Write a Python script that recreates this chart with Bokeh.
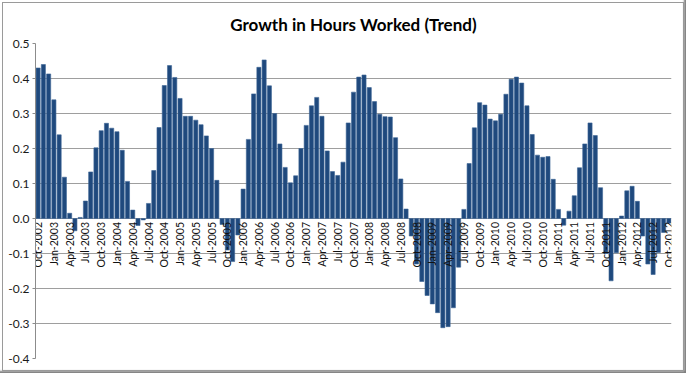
import math
from bokeh.plotting import figure
from bokeh.models import Range1d, FixedTicker, NumeralTickFormatter, ColumnDataSource
from bokeh.core.properties import value
from bokeh.embed import file_html
from bokeh.resources import INLINE

# Monthly trend growth in hours worked, Oct-2002 .. Oct-2012
growth = [
    0.430, 0.440, 0.413,                                                              # 2002 Oct-Dec
    0.339, 0.239, 0.118, 0.015, -0.035, 0.003, 0.050, 0.133, 0.202, 0.251, 0.272, 0.258,  # 2003
    0.248, 0.195, 0.106, 0.024, -0.020, -0.004, 0.043, 0.137, 0.260, 0.380, 0.437, 0.403,  # 2004
    0.343, 0.292, 0.292, 0.281, 0.268, 0.236, 0.200, 0.109, -0.017, -0.090, -0.123, -0.047,  # 2005
    0.084, 0.226, 0.356, 0.432, 0.453, 0.379, 0.300, 0.213, 0.146, 0.102, 0.122, 0.200,  # 2006
    0.266, 0.322, 0.346, 0.292, 0.193, 0.134, 0.123, 0.161, 0.273, 0.361, 0.404, 0.410,  # 2007
    0.374, 0.334, 0.298, 0.291, 0.290, 0.231, 0.113, 0.027, -0.050, -0.130, -0.180, -0.220,  # 2008
    -0.244, -0.269, -0.312, -0.309, -0.255, -0.139, 0.026, 0.157, 0.259, 0.331, 0.324, 0.284,  # 2009
    0.279, 0.298, 0.355, 0.398, 0.404, 0.387, 0.322, 0.240, 0.181, 0.175, 0.177, 0.112,  # 2010
    0.026, -0.019, 0.021, 0.065, 0.145, 0.213, 0.273, 0.237, 0.088, -0.100, -0.178, -0.098,  # 2011
    0.007, 0.079, 0.092, 0.049, -0.050, -0.130, -0.160, -0.097, -0.040, -0.013,          # 2012 Jan-Oct
]

tick_labels = [
    "Oct-2002", "Jan-2003", "Apr-2003", "Jul-2003", "Oct-2003", "Jan-2004", "Apr-2004",
    "Jul-2004", "Oct-2004", "Jan-2005", "Apr-2005", "Jul-2005", "Oct-2005", "Jan-2006",
    "Apr-2006", "Jul-2006", "Oct-2006", "Jan-2007", "Apr-2007", "Jul-2007", "Oct-2007",
    "Jan-2008", "Apr-2008", "Jul-2008", "Oct-2008", "Jan-2009", "Apr-2009", "Jul-2009",
    "Oct-2009", "Jan-2010", "Apr-2010", "Jul-2010", "Oct-2010", "Jan-2011", "Apr-2011",
    "Jul-2011", "Oct-2011", "Jan-2012", "Apr-2012", "Jul-2012", "Oct-2012",
]
label_every = 3
y_ticks = [-0.4, -0.3, -0.2, -0.1, 0.0, 0.1, 0.2, 0.3, 0.4, 0.5]
title_text = "Growth in Hours Worked (Trend)"

n = len(growth)
xs = list(range(n))
tick_x = [i * label_every for i in range(len(tick_labels))]

p = figure(width=686, height=373, output_backend="svg", toolbar_location=None,
           x_range=Range1d(-0.5, n - 0.5), y_range=Range1d(-0.4, 0.5),
           min_border_left=35, min_border_right=15, min_border_top=43, min_border_bottom=15)

# chart-area frame with a soft drop shadow (as in the spreadsheet original)
p.border_fill_color = None
p.background_fill_color = "white"
p.styles = {
    "outline": "1px solid #9a9a9a",
    "outline-offset": "-3px",
    "box-shadow": "inset -3px -3px 2px -1px rgba(0,0,0,0.5)",
}

p.title.text = title_text
p.title.align = "center"
p.title.offset = -12
p.title.standoff = 18
p.title.text_font = "Lato"
p.title.text_font_size = "17px"
p.title.text_font_style = "bold"
p.title.text_color = "black"

p.outline_line_color = None
p.xaxis.visible = False
p.xgrid.visible = False

p.yaxis.ticker = FixedTicker(ticks=y_ticks)
p.yaxis.formatter = NumeralTickFormatter(format="0.0")
p.yaxis.axis_line_color = "#8c8c8c"
p.yaxis.major_tick_line_color = "#8c8c8c"
p.yaxis.major_tick_out = 3
p.yaxis.major_tick_in = 0
p.yaxis.minor_tick_line_color = None
p.yaxis.major_label_text_font = "Lato"
p.yaxis.major_label_text_font_size = "12px"
p.yaxis.major_label_text_color = "#1a1a1a"
p.yaxis.major_label_standoff = 3

p.ygrid.ticker = FixedTicker(ticks=y_ticks)
p.ygrid.grid_line_color = "#9e9e9e"
p.ygrid.grid_line_width = 1

src = ColumnDataSource(dict(x=xs, top=growth))
p.vbar(x="x", top="top", bottom=0, width=0.78, source=src,
       fill_color="#1F497D", line_color="#3d6596", line_width=0.6)

p.text(x=tick_x, y=[-0.01] * len(tick_x), text=tick_labels, angle=math.pi / 2,
       text_align="right", text_baseline="middle",
       text_font=value("Lato"), text_font_size="10.5px", text_color="#111111")

open("out.html", "w").write(file_html(p, INLINE))
